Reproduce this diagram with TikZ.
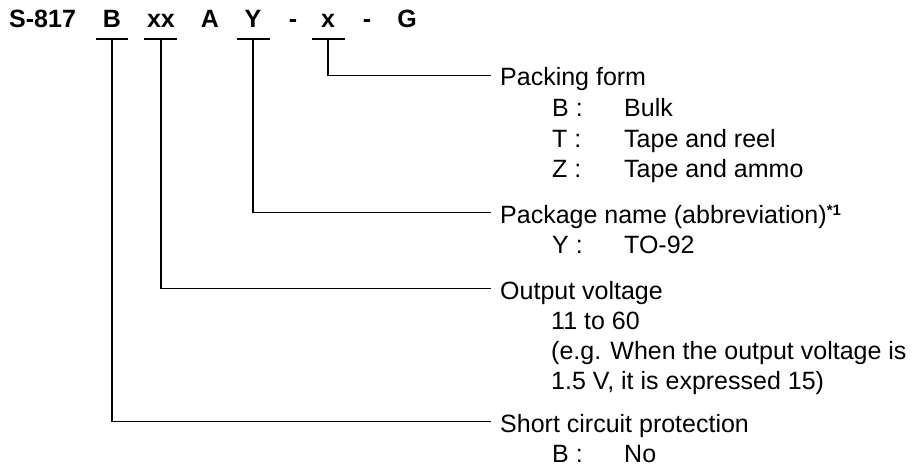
\documentclass[tikz,border=0pt]{standalone}
\usepackage{fontspec}
\setmainfont{Liberation Sans}
\begin{document}
\begin{tikzpicture}[x=1pt,y=-1pt,
  every node/.style={font=\fontsize{25}{30}\selectfont},
  ttl/.style={anchor=base,inner sep=0pt,font=\fontsize{25}{30}\selectfont\bfseries},
  lbl/.style={anchor=base west,inner xsep=9pt,inner ysep=0pt,text height=21pt,text depth=0pt},
  sub/.style={anchor=base west,inner sep=0pt},
  wire/.style={line width=1.7pt,line cap=rect}]
\useasboundingbox (0,0) rectangle (913,468);
% title
\node[ttl,anchor=base west] (tS) at (9,28) {S-817};
\node[ttl] (tB) at (112,28) {B};
\node[ttl] (tXX) at (161,28) {xx};
\node[ttl] (tA) at (210,28) {A};
\node[ttl] (tY) at (253,28) {Y};
\node[ttl] (tD1) at (293,28) {-};
\node[ttl] (tX) at (328,28) {x};
\node[ttl] (tD2) at (367,28) {-};
\node[ttl] (tG) at (407,28) {G};
% underline centres
\coordinate (uB) at (112,39);
\coordinate (uXX) at (161,39);
\coordinate (uY) at (253,39);
\coordinate (uX) at (328,39);
% labels
\node[lbl] (lPack) at (491,86) {Packing form};
\node[sub] (pB) at (552,117) {B :};
\node[sub] (pBv) at (624,117) {Bulk};
\node[sub] (pT) at (552,147) {T :};
\node[sub] (pTv) at (624,147) {Tape and reel};
\node[sub] (pZ) at (552,177) {Z :};
\node[sub] (pZv) at (624,177) {Tape and ammo};
\node[lbl] (lPkg) at (491,223) {Package name (abbreviation)\raisebox{8pt}{\fontsize{15}{15}\selectfont\bfseries *1}};
\node[sub] (kY) at (552,253) {Y :};
\node[sub] (kYv) at (624,253) {TO-92};
\node[lbl] (lOut) at (491,299) {Output voltage};
\node[sub] (o1) at (551,329) {11 to 60};
\node[sub] (o2) at (551,359) {(e.g. When the output voltage is};
\node[sub] (o3) at (551,389) {1.5 V, it is expressed 15)};
\node[lbl] (lShort) at (491,432) {Short circuit protection};
\node[sub] (sB) at (552,462) {B :};
\node[sub] (sBv) at (624,462) {No};
% underlines
\draw[wire] ([xshift=-15pt]uB) -- ([xshift=15pt]uB);
\draw[wire] ([xshift=-16pt]uXX) -- ([xshift=15pt]uXX);
\draw[wire] ([xshift=-15pt]uY) -- ([xshift=16pt]uY);
\draw[wire] ([xshift=-15pt]uX) -- ([xshift=16pt]uX);
% connectors
\draw[wire,line cap=butt] (uX) |- (lPack.west);
\draw[wire,line cap=butt] (uY) |- (lPkg.west);
\draw[wire,line cap=butt] (uXX) |- (lOut.west);
\draw[wire,line cap=butt] (uB) |- (lShort.west);
\end{tikzpicture}
\end{document}
